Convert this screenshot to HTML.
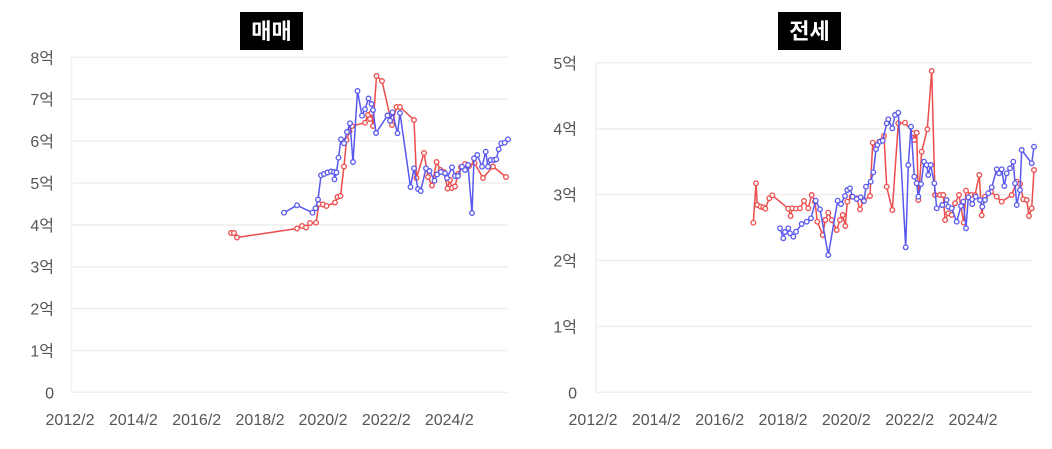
<!DOCTYPE html>
<html><head><meta charset="utf-8">
<style>
html,body{margin:0;padding:0;background:#fff;}
svg{display:block;}
.t{font-family:"Liberation Sans","Noto Sans CJK KR",sans-serif;font-size:16px;fill:#555;}
.h{font-family:"Noto Sans CJK KR","Liberation Sans",sans-serif;font-size:22px;font-weight:bold;fill:#fff;}
</style></head>
<body>
<svg width="1052" height="449" viewBox="0 0 1052 449" xmlns="http://www.w3.org/2000/svg">
<defs>
<marker id="mr" markerWidth="8" markerHeight="8" refX="4" refY="4" markerUnits="userSpaceOnUse"><circle cx="4" cy="4" r="2.3" fill="#fff" stroke="#ec4c4c" stroke-width="1.3"/></marker>
<marker id="mb" markerWidth="8" markerHeight="8" refX="4" refY="4" markerUnits="userSpaceOnUse"><circle cx="4" cy="4" r="2.3" fill="#fff" stroke="#5858ee" stroke-width="1.3"/></marker>
<clipPath id="cl"><rect x="60" y="40" width="452" height="360"/></clipPath>
<clipPath id="cr"><rect x="585" y="40" width="452" height="360"/></clipPath>
</defs>
<rect width="1052" height="449" fill="#fff"/>

<!-- LEFT CHART -->
<rect x="240" y="12" width="63" height="38" fill="#000"/>
<text class="h" x="271.5" y="39" text-anchor="middle">매매</text>
<g stroke="#efefef" stroke-width="1.5">
<line x1="71.5" y1="57.3" x2="508" y2="57.3"/>
<line x1="71.5" y1="99.2" x2="508" y2="99.2"/>
<line x1="71.5" y1="141.1" x2="508" y2="141.1"/>
<line x1="71.5" y1="183" x2="508" y2="183"/>
<line x1="71.5" y1="224.9" x2="508" y2="224.9"/>
<line x1="71.5" y1="266.7" x2="508" y2="266.7"/>
<line x1="71.5" y1="308.6" x2="508" y2="308.6"/>
<line x1="71.5" y1="350.5" x2="508" y2="350.5"/>
<line x1="71.5" y1="392.3" x2="508" y2="392.3"/>
<line x1="71.5" y1="57.3" x2="71.5" y2="392.3"/>
</g>
<g class="t" text-anchor="end">
<text x="54" y="63.3">8억</text>
<text x="54" y="105.2">7억</text>
<text x="54" y="147.1">6억</text>
<text x="54" y="189">5억</text>
<text x="54" y="230.9">4억</text>
<text x="54" y="272.7">3억</text>
<text x="54" y="314.6">2억</text>
<text x="54" y="356.5">1억</text>
<text x="54" y="398.3">0</text>
</g>
<g class="t" text-anchor="middle">
<text x="70" y="425">2012/2</text>
<text x="133.3" y="425">2014/2</text>
<text x="196.7" y="425">2016/2</text>
<text x="260" y="425">2018/2</text>
<text x="323" y="425">2020/2</text>
<text x="386.3" y="425">2022/2</text>
<text x="449.3" y="425">2024/2</text>
</g>
<g clip-path="url(#cl)" fill="none" stroke-width="1.5" stroke-linejoin="round">
<polyline stroke="#ec4c4c" marker-start="url(#mr)" marker-mid="url(#mr)" marker-end="url(#mr)" points="231,233 234,233 237,237.5 297,228.5 302,226 306,227.5 310,223 316,222.7 319,204 323,204.5 326.5,206 335,202.5 337.5,197 340.5,196 344,166.5 346.5,140 349.5,131.5 352,126 365,122.7 368,115 370,119 371.5,113 373,126 376.5,76 382,81 392,125 396.5,107 400,107 414,120 416.5,178 424,153 428,177 432,185.5 436.5,162 440.5,170 444,172 447.5,188.5 450,180 452,188 455,186.5 458,174 461,167 465,164 469,166 474.5,163 483,178 493,166.5 506,177"/>
<polyline stroke="#5858ee" marker-start="url(#mb)" marker-mid="url(#mb)" marker-end="url(#mb)" points="284,212.7 297,205.3 312.5,212.7 315.5,208.3 318,199.5 321,175.3 324,174 327.5,172.5 331,171.5 334,172 334.5,179.3 336.5,172.5 338.5,157.7 341,139.3 344,143.3 347,132 350,123.3 353,162 357.5,91 362,115.7 365,109.3 368.5,98.5 371.5,104 373,110 376,133 387.5,115.5 390,120.7 392.5,112.3 397.5,133.3 400,113 410.5,187 414,168.3 418,189 420.7,191 426,168.3 429.5,171 434.5,180.7 437,174.5 441,172 445,173.3 447,178 452,167.3 455,176 458,176 462,166.7 465,170 468,165 472,213 474,158.3 477.3,155 482,166.7 485.7,151.7 488,166.7 490.7,160 494,160 496.3,159.3 498.7,149.3 501.3,143.3 504.7,142.7 508,139.3"/>
</g>

<!-- RIGHT CHART -->
<rect x="778" y="12" width="63" height="38" fill="#000"/>
<text class="h" x="809.5" y="39" text-anchor="middle">전세</text>
<g stroke="#efefef" stroke-width="1.5">
<line x1="596" y1="62.8" x2="1033" y2="62.8"/>
<line x1="596" y1="128.7" x2="1033" y2="128.7"/>
<line x1="596" y1="194.6" x2="1033" y2="194.6"/>
<line x1="596" y1="260.5" x2="1033" y2="260.5"/>
<line x1="596" y1="326.4" x2="1033" y2="326.4"/>
<line x1="596" y1="392.3" x2="1033" y2="392.3"/>
<line x1="596" y1="62.8" x2="596" y2="392.3"/>
</g>
<g class="t" text-anchor="end">
<text x="577" y="68.8">5억</text>
<text x="577" y="134.7">4억</text>
<text x="577" y="200.6">3억</text>
<text x="577" y="266.5">2억</text>
<text x="577" y="332.4">1억</text>
<text x="577" y="398.3">0</text>
</g>
<g class="t" text-anchor="middle">
<text x="593" y="425">2012/2</text>
<text x="656.3" y="425">2014/2</text>
<text x="719.7" y="425">2016/2</text>
<text x="783" y="425">2018/2</text>
<text x="846.3" y="425">2020/2</text>
<text x="909.7" y="425">2022/2</text>
<text x="973" y="425">2024/2</text>
</g>
<g clip-path="url(#cr)" fill="none" stroke-width="1.5" stroke-linejoin="round">
<polyline stroke="#ec4c4c" marker-start="url(#mr)" marker-mid="url(#mr)" marker-end="url(#mr)" points="753.3,222.7 756,183.3 757.3,205 760.7,206.7 763.3,207.3 765.3,208.7 769.3,198.3 772.3,195.3 788.3,208.7 790.7,216 792.3,208.3 796,208.7 800,208.3 804,201 808.3,208.3 811.7,195 815,201.7 817.3,221.7 822.7,235 825.3,220 828.3,212.7 831.7,220 836.7,230 840,220 842.7,215 845.3,226 847.3,201.7 851.7,196.7 856.7,198.3 860,209.3 863.3,201 870,196 872.7,142.7 876,146 879.3,141.7 882.7,140 884,136 886.7,186.7 892.3,210 898.3,123.3 905,122.7 913.3,133.3 914.3,140 916.7,132.7 918.3,200 921.7,151.7 927.3,129.3 931.7,71 935,195 940,195 943.3,195 945,220 948.3,213.3 951.7,215 955,203.3 959,195 963.7,222.7 966,190.7 971,195 975,195 979.3,175 981.7,215.3 985,196.7 991,191.7 996.7,196.7 1001.7,201.7 1011.7,195 1016.7,181.7 1020,184 1023.3,199.3 1026.7,200 1029,216 1031.7,208.3 1034,170"/>
<polyline stroke="#5858ee" marker-start="url(#mb)" marker-mid="url(#mb)" marker-end="url(#mb)" points="780,228.3 783.3,238.3 785,232 788.3,228.3 790,233.3 793.3,236.7 796,231.7 801.7,224 806.7,221.7 811,218.3 815.7,200.7 820,209.3 828.3,255 837.7,200.7 841,204 845,196 847.3,190 850,188.3 852.7,196.7 856.7,199 860.7,197.3 864,201 866,186.7 870.7,181.7 873.3,172.3 876,149.3 877.3,145 880,141.7 882.7,140.7 886.7,123.3 888.3,119.3 892.3,128.3 895,115 898.3,112.7 905.7,247.3 908.3,165 911,126.7 914.3,176.7 916.7,183.3 918.3,196.7 921,184 924,161.7 926.7,165 928.3,175 930.7,165 934.3,183.3 936.7,208.3 942.3,205 946.7,200 948.3,206.7 951.7,208.3 956.7,221.7 961,206 963.3,201.7 966,228.3 968.3,197.3 972.3,204 975.7,196.7 980,200 982.3,206.7 985,200 988.3,193.3 991.7,187.3 996.7,169.3 999,173.3 1001.7,169.3 1004.3,186 1006.7,173.3 1010,168.3 1013.3,161.7 1015,183.3 1016.7,205 1020,190 1021.7,150 1031.7,163.3 1034,146.7"/>
</g>
</svg>
</body></html>
